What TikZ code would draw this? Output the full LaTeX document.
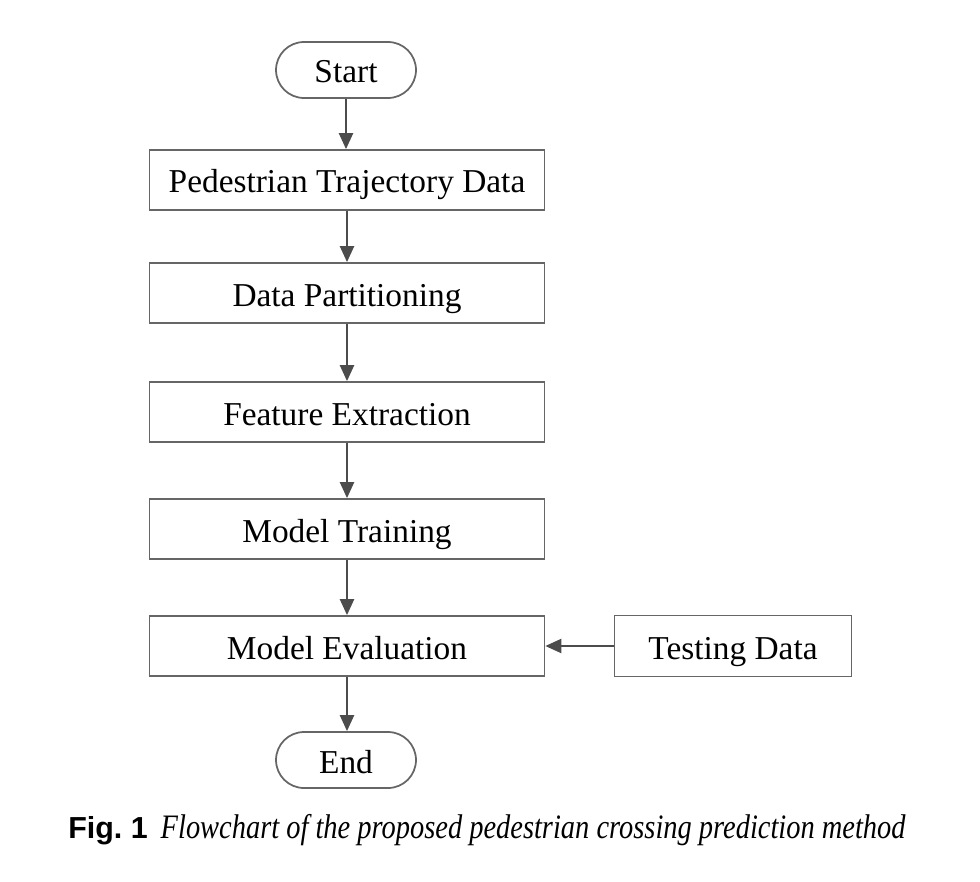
\documentclass[tikz,border=0pt]{standalone}
\usepackage{fontspec}
\setmainfont{Liberation Serif}
\newfontfamily\figsans{Liberation Sans}
\usetikzlibrary{arrows.meta}
\tikzset{
BOX/.style ={draw=black!60, line width=0.35mm, minimum width=7.9cm, minimum height=1.2cm, inner sep=0pt, text height=0.52cm, text depth=0pt, font=\fontsize{19}{23}\selectfont},
TERM/.style ={BOX, rounded corners=0.56cm, minimum width=2.8cm, minimum height=1.12cm},
SIDE/.style ={BOX, minimum width=4.74cm, minimum height=1.22cm},
FLOW/.style ={draw=black!70, line width=0.45mm, -{Triangle[length=3.2mm, width=2.8mm]}},
}

\begin{document}
\begin{tikzpicture}
[x=0.02cm, y=-0.02cm]
	\useasboundingbox (0,0) rectangle (980,882);
	\node[TERM] (start) at (346,70) {Start};
	\node[BOX] (traj) at (347,180) {Pedestrian Trajectory Data};
	\node[BOX] (part) at (347,293) {Data Partitioning};
	\node[BOX] (feat) at (347,412) {Feature Extraction};
	\node[BOX] (train) at (347,529) {Model Training};
	\node[BOX] (eval) at (347,646) {Model Evaluation};
	\node[SIDE] (test) at (733,646) {Testing Data};
	\node[TERM] (end) at (346,760) {End};
	\path[FLOW] (start) -- (start |- traj.north);
	\path[FLOW] (traj) -- (part);
	\path[FLOW] (part) -- (feat);
	\path[FLOW] (feat) -- (train);
	\path[FLOW] (train) -- (eval);
	\path[FLOW] (eval) -- (eval |- end.north);
	\path[FLOW] (test) -- (eval);
	\node[anchor=base west, inner sep=0pt] (cap) at (68,838)
	{{\figsans\bfseries\fontsize{17.3}{21}\selectfont Fig.~1}\hspace{0.26cm}\resizebox{14.9cm}{\height}{\itshape\fontsize{19.5}{23}\selectfont Flowchart of the proposed pedestrian crossing prediction method}};
\end{tikzpicture}
\end{document}
